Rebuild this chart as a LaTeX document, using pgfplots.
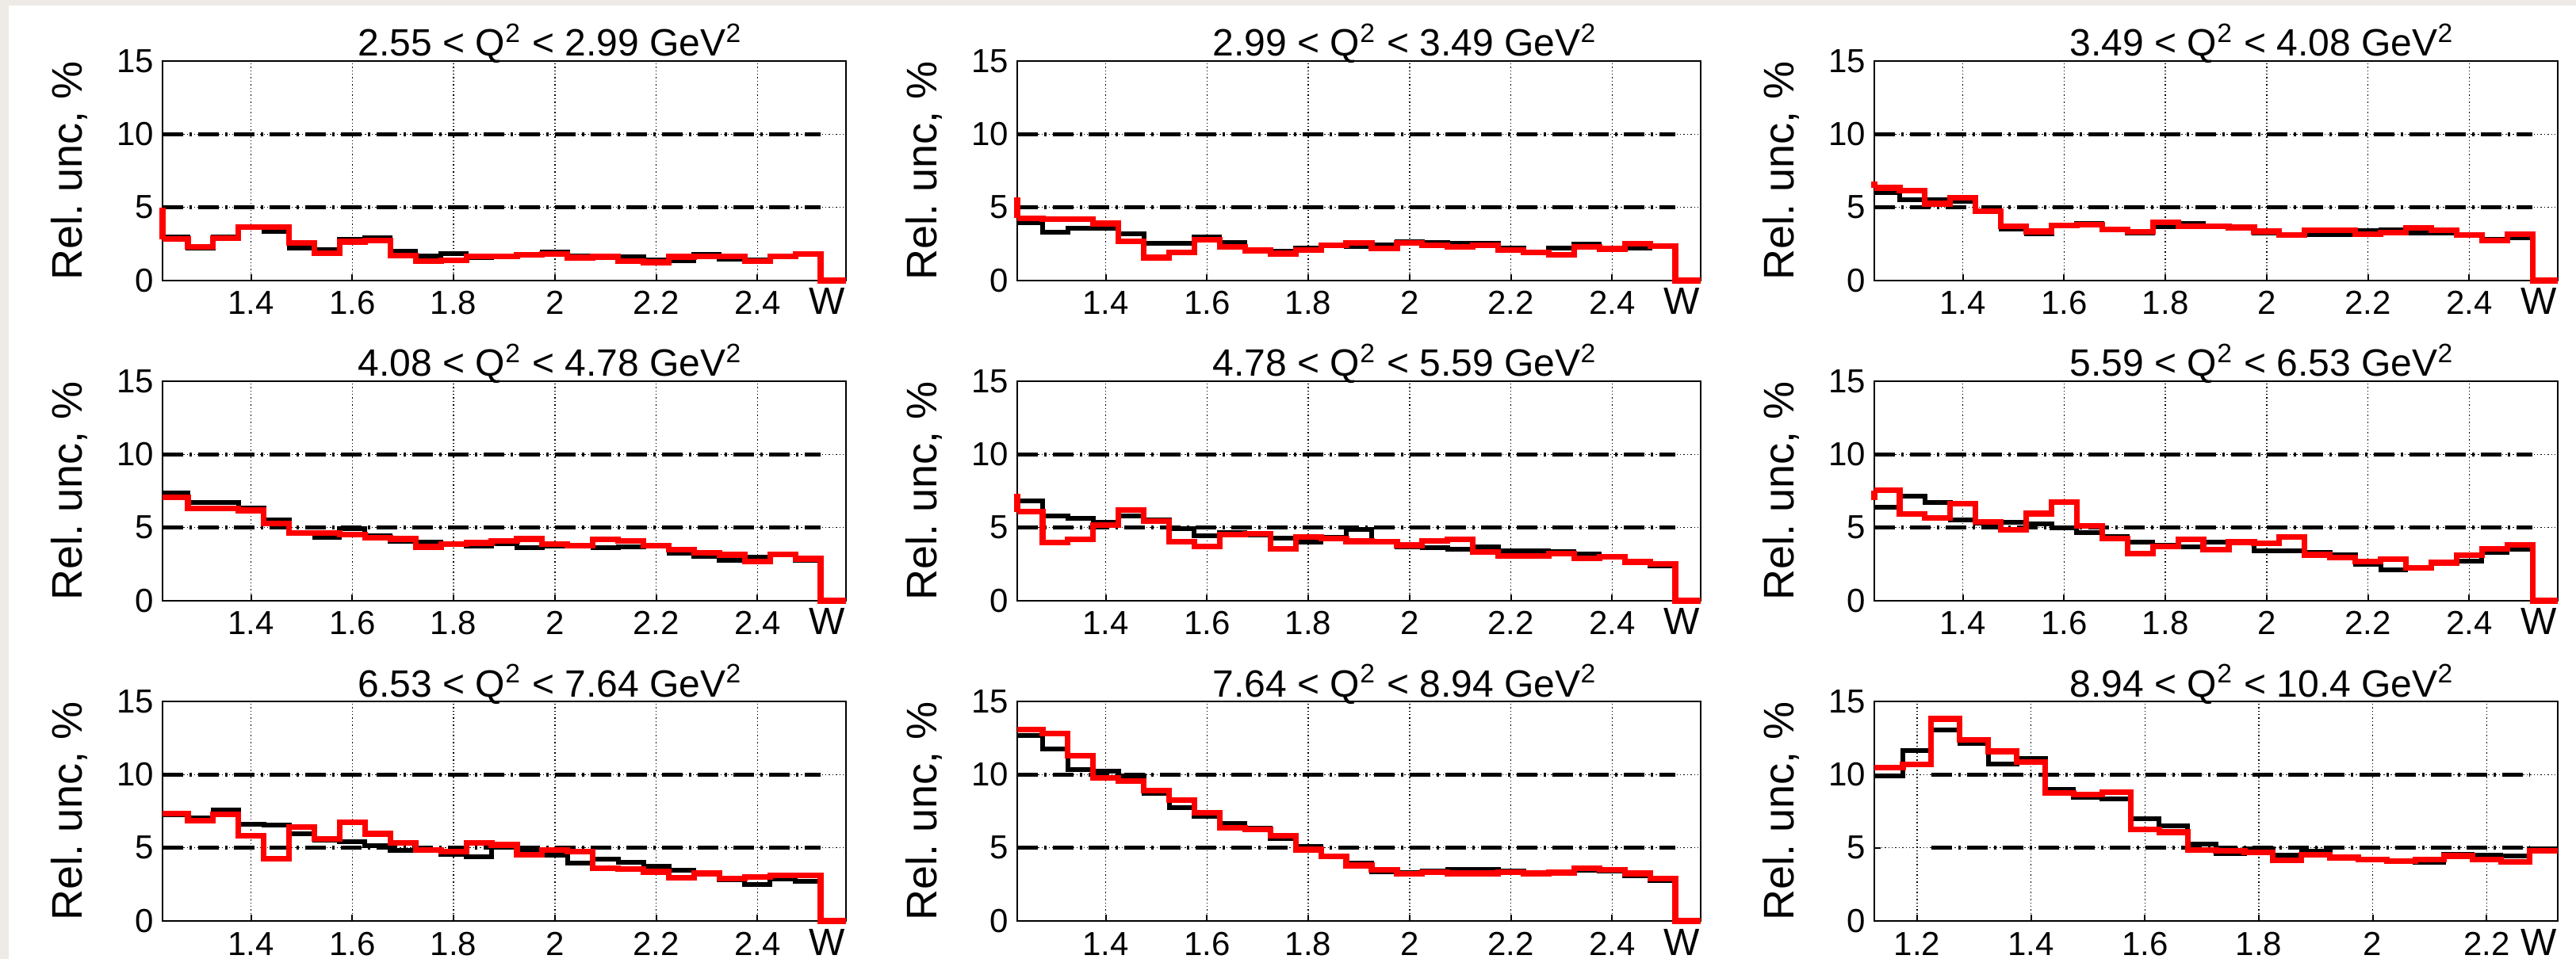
\documentclass[border=0pt]{standalone}
\usepackage{fontspec}
\setmainfont{Liberation Sans}
\usepackage{pgfplots}
\usepackage{pgfplotstable}
\pgfplotsset{compat=1.18}
\definecolor{bgbeige}{HTML}{EEEBE6}
\definecolor{rootred}{HTML}{FF0000}

\pgfplotsset{
 every axis title shift=0pt,
 panel/.style={
  scale only axis, width=215.5bp, height=69.25bp, anchor=south west,
  ymin=0, ymax=15, ytick={0,5,10,15},
  xmin=1.225, xmax=2.575, xtick={1.4,1.6,1.8,2,2.2,2.4},
  tick align=inside, xtick pos=bottom, ytick pos=left,
  major tick length=2bp, minor tick num=0,
  tick style={black, line width=0.5bp},
  axis line style={black, line width=0.5bp},
  grid=major, major grid style={black, line width=0.35bp, dash pattern=on 0.35bp off 0.75bp},
  clip=false,
  /pgf/number format/assume math mode=true,
  tick label style={font=\fontsize{10.5bp}{12bp}\selectfont, inner sep=0pt},
  xticklabel style={anchor=base, yshift=-10.75bp},
  yticklabel style={anchor=east, xshift=-2.5bp},
  title style={at={(axis description cs:0.5673,1)}, anchor=base, yshift=1.5bp, font=\fontsize{12bp}{14bp}\selectfont, inner sep=0pt},
  ylabel={Rel.\ unc, \%},
  ylabel style={at={(axis description cs:-0.1172,1)}, anchor=base east, font=\fontsize{13.5bp}{15bp}\selectfont, inner sep=0pt},
  xlabel={W},
  xlabel style={at={(axis description cs:1,0)}, anchor=base east, yshift=-10.75bp, font=\fontsize{12bp}{14bp}\selectfont, inner sep=0pt},
 },
 blk/.style={black, line width=1.5bp, const plot mark left, no markers, forget plot},
 rd/.style={rootred, line width=1.8bp, const plot mark left, no markers, forget plot},
 dashln/.style={black, line width=1.1bp, dash pattern=on 6.5bp off 2bp on 0.75bp off 2bp, forget plot},
}

% columns: bin left edge, black, red
\pgfplotstableread{
x b r
1.225 3.00 2.83
1.275 2.24 2.30
1.325 3.00 2.88
1.375 3.64 3.66
1.425 3.35 3.66
1.475 2.24 2.58
1.525 2.10 1.87
1.575 2.80 2.65
1.625 2.92 2.75
1.675 2.02 1.72
1.725 1.66 1.33
1.775 1.84 1.40
1.825 1.57 1.66
1.875 1.69 1.66
1.925 1.78 1.75
1.975 1.93 1.80
2.025 1.69 1.57
2.075 1.69 1.62
2.125 1.62 1.33
2.175 1.39 1.24
2.225 1.33 1.62
2.275 1.80 1.66
2.325 1.44 1.66
2.375 1.39 1.33
2.425 1.66 1.66
2.475 1.80 1.80
2.525 0 0
2.575 0 0
}\tA
\pgfplotstableread{
x b r
1.225 3.95 4.27
1.275 3.32 4.18
1.325 3.60 4.18
1.375 3.60 3.90
1.425 3.19 2.70
1.475 2.52 1.57
1.525 2.52 1.93
1.575 2.96 2.78
1.625 2.60 2.29
1.675 2.10 2.06
1.725 2.02 1.84
1.775 2.20 2.10
1.825 2.42 2.42
1.875 2.34 2.56
1.925 2.42 2.20
1.975 2.65 2.56
2.025 2.60 2.42
2.075 2.56 2.29
2.125 2.56 2.42
2.175 2.20 2.10
2.225 1.93 1.93
2.275 2.20 1.75
2.325 2.47 2.29
2.375 2.20 2.16
2.425 2.20 2.52
2.475 2.34 2.34
2.525 0 0
2.575 0 0
}\tB
\pgfplotstableread{
x b r
1.225 6.00 6.33
1.275 5.52 6.15
1.325 5.52 5.25
1.375 5.43 5.65
1.425 4.71 4.75
1.475 3.54 3.72
1.525 3.18 3.36
1.575 3.72 3.78
1.625 3.90 3.81
1.675 3.45 3.49
1.725 3.27 3.31
1.775 3.67 3.99
1.825 3.90 3.72
1.875 3.72 3.69
1.925 3.67 3.63
1.975 3.24 3.36
2.025 3.13 3.13
2.075 3.13 3.42
2.125 3.13 3.42
2.175 3.42 3.18
2.225 3.49 3.27
2.275 3.24 3.60
2.325 3.27 3.42
2.375 3.09 3.13
2.425 2.82 2.73
2.475 2.95 3.18
2.525 0 0
2.575 0 0
}\tC
\pgfplotstableread{
x b r
1.225 7.37 7.07
1.275 6.70 6.29
1.325 6.70 6.29
1.375 6.35 6.17
1.425 5.52 5.26
1.475 4.62 4.62
1.525 4.31 4.62
1.575 4.94 4.54
1.625 4.44 4.31
1.675 4.08 4.22
1.725 4.00 3.68
1.775 3.82 3.86
1.825 3.71 3.95
1.875 3.89 4.08
1.925 3.64 4.22
1.975 3.71 3.86
2.025 3.77 3.77
2.075 3.64 4.18
2.125 3.68 4.08
2.175 3.77 3.77
2.225 3.23 3.50
2.275 3.05 3.28
2.325 2.78 3.14
2.375 2.96 2.69
2.425 3.17 3.17
2.475 2.74 2.87
2.525 0 0
2.575 0 0
}\tD
\pgfplotstableread{
x b r
1.225 6.80 6.08
1.275 5.77 3.97
1.325 5.65 4.20
1.375 5.36 5.17
1.425 5.77 6.22
1.475 5.53 5.46
1.525 4.92 4.02
1.575 4.46 3.73
1.625 4.64 4.51
1.675 4.51 4.56
1.725 4.27 3.55
1.775 4.02 4.38
1.825 4.33 4.27
1.875 4.87 4.06
1.925 4.02 4.02
1.975 3.67 3.79
2.025 3.61 4.09
2.075 3.52 4.20
2.125 3.67 3.34
2.175 3.43 3.06
2.225 3.43 3.06
2.275 3.38 3.24
2.325 3.17 2.88
2.375 2.99 3.01
2.425 2.63 2.65
2.475 2.36 2.52
2.525 0 0
2.575 0 0
}\tE
\pgfplotstableread{
x b r
1.225 6.40 7.54
1.275 7.17 5.91
1.325 6.72 5.67
1.375 5.55 6.63
1.425 5.28 5.37
1.475 5.37 4.83
1.525 5.24 5.96
1.575 5.00 6.76
1.625 4.64 5.10
1.675 4.41 4.23
1.725 3.98 3.20
1.775 3.80 3.69
1.825 3.69 4.19
1.875 4.01 3.51
1.925 3.98 4.01
1.975 3.43 3.92
2.025 3.43 4.34
2.075 3.29 3.14
2.125 3.14 2.96
2.175 2.48 2.66
2.225 2.11 2.84
2.275 2.29 2.24
2.325 2.66 2.60
2.375 2.71 3.11
2.425 3.29 3.56
2.475 3.51 3.80
2.525 0 0
2.575 0 0
}\tF
\pgfplotstableread{
x b r
1.225 7.28 7.34
1.275 7.05 6.83
1.325 7.59 7.28
1.375 6.61 5.84
1.425 6.56 4.27
1.475 5.93 6.43
1.525 5.53 5.60
1.575 5.42 6.74
1.625 5.17 5.96
1.675 4.84 5.35
1.725 4.84 4.84
1.775 4.57 4.75
1.825 4.39 5.35
1.875 5.02 5.20
1.925 4.70 4.52
1.975 4.48 4.84
2.025 3.94 4.75
2.075 4.21 3.61
2.125 4.03 3.54
2.175 3.72 3.36
2.225 3.49 2.95
2.275 3.22 3.25
2.325 2.82 2.89
2.375 2.49 3.00
2.425 2.86 3.13
2.475 2.71 3.13
2.525 0 0
2.575 0 0
}\tG
\pgfplotstableread{
x b r
1.225 12.67 13.09
1.275 11.77 12.80
1.325 10.33 11.29
1.375 10.24 9.79
1.425 9.92 9.55
1.475 8.71 8.89
1.525 7.75 8.26
1.575 7.14 7.39
1.625 6.67 6.36
1.675 6.31 6.24
1.725 5.64 5.82
1.775 5.10 4.87
1.825 4.38 4.43
1.875 3.93 3.79
1.925 3.35 3.48
1.975 3.30 3.21
2.025 3.43 3.35
2.075 3.53 3.25
2.125 3.53 3.25
2.175 3.43 3.35
2.225 3.30 3.25
2.275 3.35 3.30
2.325 3.48 3.61
2.375 3.43 3.48
2.425 3.06 3.25
2.475 2.76 2.88
2.525 0 0
2.575 0 0
}\tH
\pgfplotstableread{
x b r
1.125 9.92 10.46
1.175 11.65 10.69
1.225 13.03 13.81
1.275 12.13 12.37
1.325 10.71 11.59
1.375 11.10 10.87
1.425 9.01 8.76
1.475 8.44 8.65
1.525 8.35 8.80
1.575 7.00 6.24
1.625 6.49 6.06
1.675 5.23 4.83
1.725 4.62 4.80
1.775 4.93 4.69
1.825 4.51 4.15
1.875 4.74 4.51
1.925 4.29 4.33
1.975 4.25 4.20
2.025 4.11 4.07
2.075 4.02 4.20
2.125 4.56 4.44
2.175 4.47 4.20
2.225 4.46 4.04
2.275 4.93 4.78
2.325 4.93 4.78
}\tI

% #1 x, #2 y, #3 title, #4 table, #5 dash start, #6 dash end, #7 extra axis options, #8 extra plots
\newcommand{\histpanel}[8]{%
\begin{axis}[panel, at={(#1,#2)}, title={#3}, #7]
\addplot[dashln] coordinates {(#5,5) (#6,5)};
\addplot[dashln] coordinates {(#5,10) (#6,10)};
\addplot[blk] table[x=x,y=b] {#4};
#8
\addplot[rd] table[x=x,y=r] {#4};
\end{axis}}

\begin{document}
\begin{tikzpicture}
\path[use as bounding box] (0,0) rectangle (812.25bp,302.5bp);
\fill[bgbeige] (0,0) rectangle (812.25bp,302.5bp);
\fill[white] (2.75bp,0) rectangle (812.25bp,300.75bp);

\histpanel{51.25bp}{214bp}{2.55 < Q\textsuperscript{2} < 2.99 GeV\textsuperscript{2}}{\tA}{1.225}{2.525}{}{\addplot[rd] coordinates {(1.225,5.0) (1.225,2.83)};}
\histpanel{320.75bp}{214bp}{2.99 < Q\textsuperscript{2} < 3.49 GeV\textsuperscript{2}}{\tB}{1.225}{2.525}{}{\addplot[rd] coordinates {(1.225,5.7) (1.225,4.27)};}
\histpanel{591bp}{214bp}{3.49 < Q\textsuperscript{2} < 4.08 GeV\textsuperscript{2}}{\tC}{1.225}{2.525}{}{\addplot[rd] coordinates {(1.225,6.78) (1.225,6.33)};}

\histpanel{51.25bp}{113bp}{4.08 < Q\textsuperscript{2} < 4.78 GeV\textsuperscript{2}}{\tD}{1.225}{2.525}{}{}
\histpanel{320.75bp}{113bp}{4.78 < Q\textsuperscript{2} < 5.59 GeV\textsuperscript{2}}{\tE}{1.225}{2.525}{}{\addplot[rd] coordinates {(1.225,7.3) (1.225,6.08)};}
\histpanel{591bp}{113bp}{5.59 < Q\textsuperscript{2} < 6.53 GeV\textsuperscript{2}}{\tF}{1.225}{2.525}{}{\addplot[rd] coordinates {(1.225,6.85) (1.225,7.54)};}

\histpanel{51.25bp}{12bp}{6.53 < Q\textsuperscript{2} < 7.64 GeV\textsuperscript{2}}{\tG}{1.225}{2.525}{}{}
\histpanel{320.75bp}{12bp}{7.64 < Q\textsuperscript{2} < 8.94 GeV\textsuperscript{2}}{\tH}{1.225}{2.525}{}{}
\histpanel{591bp}{12bp}{8.94 < Q\textsuperscript{2} < 10.4 GeV\textsuperscript{2}}{\tI}{1.225}{2.275}{xmin=1.125, xmax=2.325, xtick={1.2,1.4,1.6,1.8,2,2.2}}{}
\end{tikzpicture}
\end{document}
